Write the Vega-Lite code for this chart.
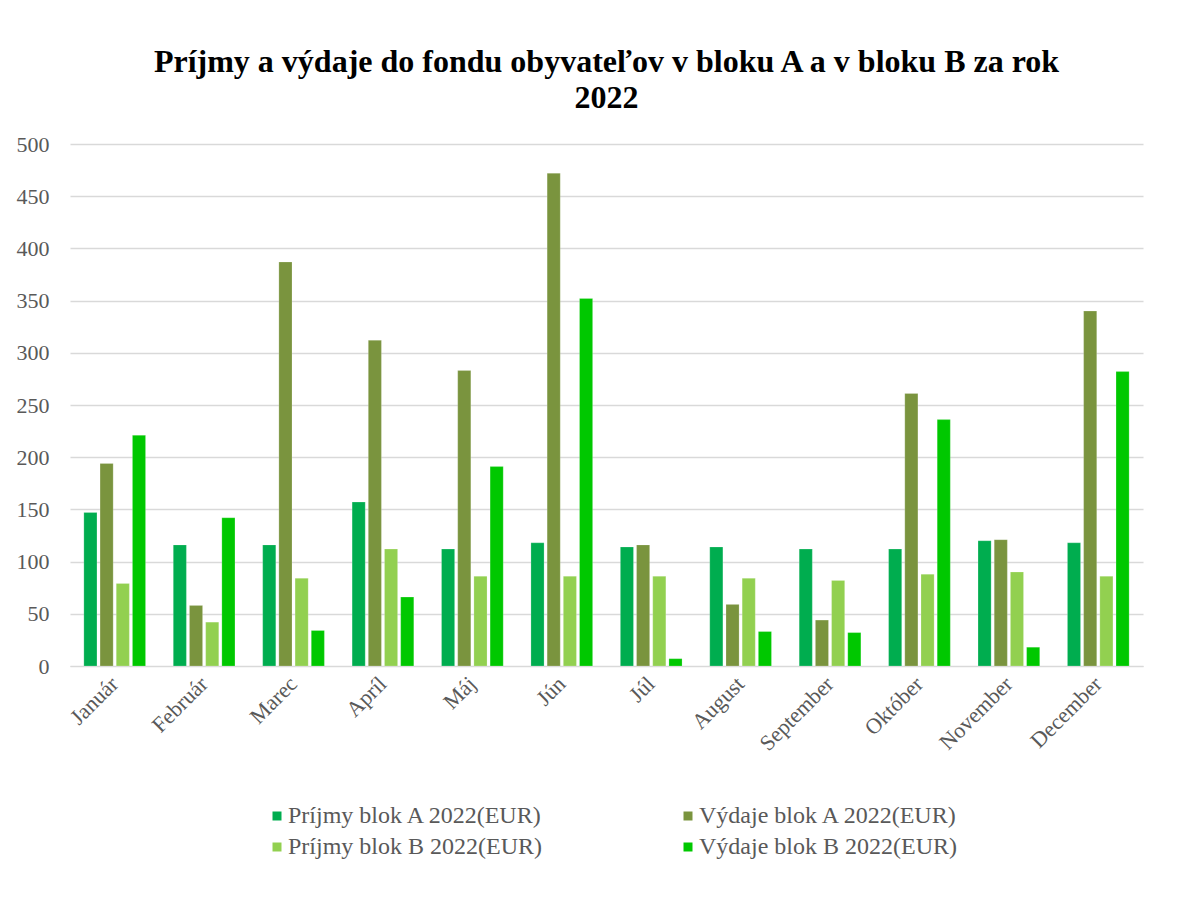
{
  "$schema": "https://vega.github.io/schema/vega-lite/v6.json",
  "autosize": "none",
  "width": 1073,
  "height": 522,
  "padding": {"left": 70, "top": 144, "right": 43, "bottom": 233},
  "background": "white",
  "title": {
    "text": ["Príjmy a výdaje do fondu obyvateľov v bloku A a v bloku B za rok", "2022"],
    "font": "Liberation Serif",
    "fontSize": 32,
    "fontWeight": "bold",
    "color": "#000000",
    "lineHeight": 36,
    "anchor": "middle",
    "offset": 18
  },
  "data": {
    "values": [
      {"month": "Január", "series": "Príjmy blok A 2022(EUR)", "value": 147},
      {"month": "Január", "series": "Výdaje blok A 2022(EUR)", "value": 194},
      {"month": "Január", "series": "Príjmy blok B 2022(EUR)", "value": 79},
      {"month": "Január", "series": "Výdaje blok B 2022(EUR)", "value": 221},
      {"month": "Február", "series": "Príjmy blok A 2022(EUR)", "value": 116},
      {"month": "Február", "series": "Výdaje blok A 2022(EUR)", "value": 58},
      {"month": "Február", "series": "Príjmy blok B 2022(EUR)", "value": 42},
      {"month": "Február", "series": "Výdaje blok B 2022(EUR)", "value": 142},
      {"month": "Marec", "series": "Príjmy blok A 2022(EUR)", "value": 116},
      {"month": "Marec", "series": "Výdaje blok A 2022(EUR)", "value": 387},
      {"month": "Marec", "series": "Príjmy blok B 2022(EUR)", "value": 84},
      {"month": "Marec", "series": "Výdaje blok B 2022(EUR)", "value": 34},
      {"month": "Apríl", "series": "Príjmy blok A 2022(EUR)", "value": 157},
      {"month": "Apríl", "series": "Výdaje blok A 2022(EUR)", "value": 312},
      {"month": "Apríl", "series": "Príjmy blok B 2022(EUR)", "value": 112},
      {"month": "Apríl", "series": "Výdaje blok B 2022(EUR)", "value": 66},
      {"month": "Máj", "series": "Príjmy blok A 2022(EUR)", "value": 112},
      {"month": "Máj", "series": "Výdaje blok A 2022(EUR)", "value": 283},
      {"month": "Máj", "series": "Príjmy blok B 2022(EUR)", "value": 86},
      {"month": "Máj", "series": "Výdaje blok B 2022(EUR)", "value": 191},
      {"month": "Jún", "series": "Príjmy blok A 2022(EUR)", "value": 118},
      {"month": "Jún", "series": "Výdaje blok A 2022(EUR)", "value": 472},
      {"month": "Jún", "series": "Príjmy blok B 2022(EUR)", "value": 86},
      {"month": "Jún", "series": "Výdaje blok B 2022(EUR)", "value": 352},
      {"month": "Júl", "series": "Príjmy blok A 2022(EUR)", "value": 114},
      {"month": "Júl", "series": "Výdaje blok A 2022(EUR)", "value": 116},
      {"month": "Júl", "series": "Príjmy blok B 2022(EUR)", "value": 86},
      {"month": "Júl", "series": "Výdaje blok B 2022(EUR)", "value": 7},
      {"month": "August", "series": "Príjmy blok A 2022(EUR)", "value": 114},
      {"month": "August", "series": "Výdaje blok A 2022(EUR)", "value": 59},
      {"month": "August", "series": "Príjmy blok B 2022(EUR)", "value": 84},
      {"month": "August", "series": "Výdaje blok B 2022(EUR)", "value": 33},
      {"month": "September", "series": "Príjmy blok A 2022(EUR)", "value": 112},
      {"month": "September", "series": "Výdaje blok A 2022(EUR)", "value": 44},
      {"month": "September", "series": "Príjmy blok B 2022(EUR)", "value": 82},
      {"month": "September", "series": "Výdaje blok B 2022(EUR)", "value": 32},
      {"month": "Október", "series": "Príjmy blok A 2022(EUR)", "value": 112},
      {"month": "Október", "series": "Výdaje blok A 2022(EUR)", "value": 261},
      {"month": "Október", "series": "Príjmy blok B 2022(EUR)", "value": 88},
      {"month": "Október", "series": "Výdaje blok B 2022(EUR)", "value": 236},
      {"month": "November", "series": "Príjmy blok A 2022(EUR)", "value": 120},
      {"month": "November", "series": "Výdaje blok A 2022(EUR)", "value": 121},
      {"month": "November", "series": "Príjmy blok B 2022(EUR)", "value": 90},
      {"month": "November", "series": "Výdaje blok B 2022(EUR)", "value": 18},
      {"month": "December", "series": "Príjmy blok A 2022(EUR)", "value": 118},
      {"month": "December", "series": "Výdaje blok A 2022(EUR)", "value": 340},
      {"month": "December", "series": "Príjmy blok B 2022(EUR)", "value": 86},
      {"month": "December", "series": "Výdaje blok B 2022(EUR)", "value": 282}
    ]
  },
  "mark": {"type": "bar", "stroke": "#ffffff", "strokeOpacity": 0.4, "strokeWidth": 0.5},
  "encoding": {
    "x": {
      "field": "month",
      "type": "nominal",
      "sort": null,
      "scale": {"paddingInner": 0.31, "paddingOuter": 0.155},
      "axis": {
        "title": null,
        "labelAngle": -45,
        "labelAlign": "right",
        "labelBaseline": "middle",
        "labelFont": "Liberation Serif",
        "labelFontSize": 22,
        "labelColor": "#595959",
        "labelPadding": 14,
        "ticks": false,
        "domain": true,
        "domainColor": "#D9D9D9",
        "labelLimit": 300
      }
    },
    "xOffset": {
      "field": "series",
      "type": "nominal",
      "sort": null,
      "scale": {"paddingInner": 0.19, "paddingOuter": 0}
    },
    "y": {
      "field": "value",
      "type": "quantitative",
      "scale": {"domain": [0, 500], "nice": false},
      "axis": {
        "title": null,
        "values": [0, 50, 100, 150, 200, 250, 300, 350, 400, 450, 500],
        "labelFont": "Liberation Serif",
        "labelFontSize": 22,
        "labelColor": "#595959",
        "labelPadding": 21,
        "ticks": false,
        "domain": false,
        "gridColor": "#D9D9D9",
        "gridWidth": 1.3
      }
    },
    "color": {
      "field": "series",
      "type": "nominal",
      "sort": null,
      "scale": {
        "domain": ["Príjmy blok A 2022(EUR)", "Výdaje blok A 2022(EUR)", "Príjmy blok B 2022(EUR)", "Výdaje blok B 2022(EUR)"],
        "range": ["#00AD4F", "#7A943E", "#92D050", "#00C800"]
      },
      "legend": {
        "title": null,
        "orient": "none",
        "legendX": 195,
        "legendY": 660,
        "direction": "horizontal",
        "columns": 2,
        "columnPadding": 132,
        "rowPadding": 7,
        "symbolType": "square",
        "symbolSize": 81,
        "symbolStrokeWidth": 0,
        "labelFont": "Liberation Serif",
        "labelFontSize": 24,
        "labelColor": "#595959",
        "labelOffset": -1,
        "labelLimit": 400
      }
    }
  },
  "config": {
    "view": {"stroke": null}
  }
}
